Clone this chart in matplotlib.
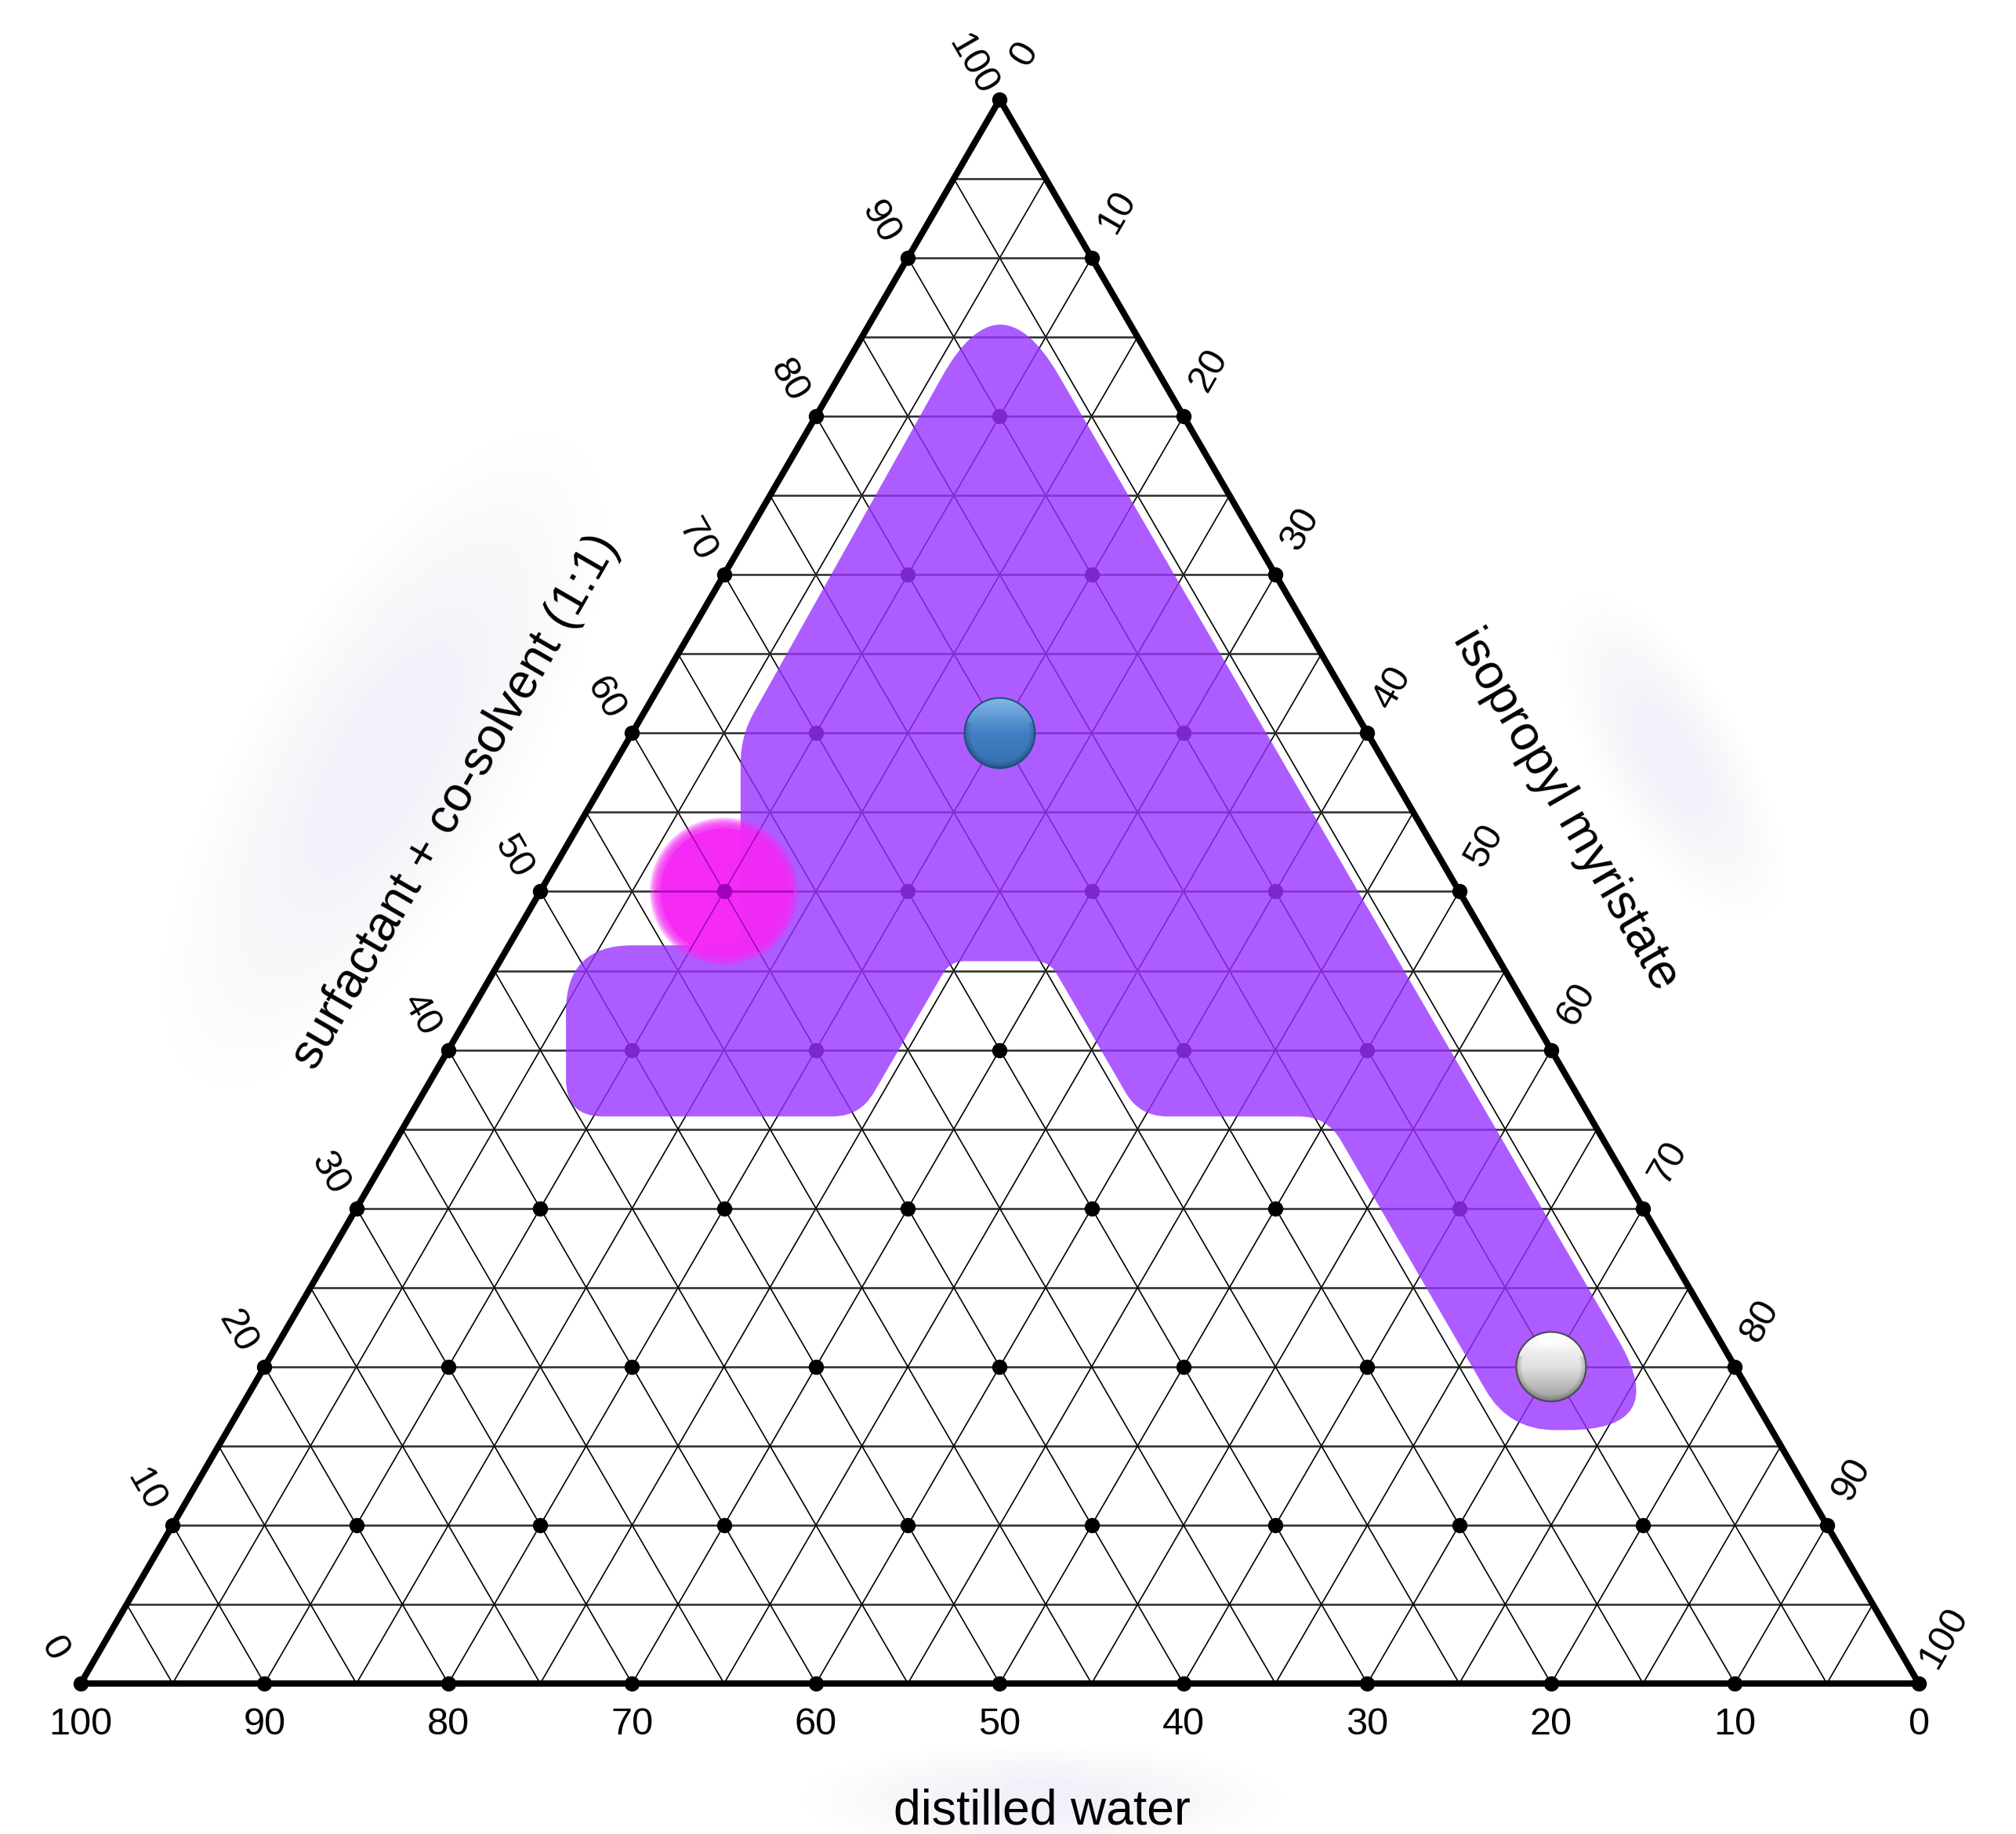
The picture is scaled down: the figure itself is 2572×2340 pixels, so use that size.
import numpy as np
import matplotlib.pyplot as plt
import matplotlib.colors as mcolors
from matplotlib.patches import Circle, Ellipse, PathPatch
from matplotlib.path import Path

plt.rcParams['font.family'] = ['Liberation Sans', 'DejaVu Sans']

H = np.sqrt(3) / 2

water_label = "distilled water"
surf_label = "surfactant + co-solvent (1:1)"
oil_label = "isopropyl myristate"

ticks = list(range(0, 101, 10))

# microemulsion region boundary (% surfactant + co-solvent, % oil)
region_surf = [89.0, 16.0, 16.0, 35.8, 35.8, 45.6, 45.6, 35.8, 35.8, 46.6, 46.6, 59.8]
region_oil = [5.5, 78.5, 69.7, 49.9, 39.7, 29.9, 24.5, 24.5, 8.5, 3.1, 12.6, 6.0]
# how much each corner of the region is rounded off
region_round = [6.4, 5.6, 2.5, 1.5, 1.5, 0.8, 0.8, 1.5, 2.0, 3.6, 1.0, 1.5]

# selected formulations (% surfactant + co-solvent, % oil)
pink_surf, pink_oil = 50, 10
blue_surf, blue_oil = 60, 20
white_surf, white_oil = 20, 70


def to_xy(surf, oil):
    surf = np.asarray(surf, float)
    oil = np.asarray(oil, float)
    return oil + surf / 2, surf * H


def rounded_path(xs, ys, radii):
    pts = np.column_stack([xs, ys])
    n = len(pts)
    verts, codes = [], []
    for i in range(n):
        p, v, q = pts[i - 1], pts[i], pts[(i + 1) % n]
        a = v + (p - v) / np.linalg.norm(p - v) * radii[i]
        b = v + (q - v) / np.linalg.norm(q - v) * radii[i]
        verts += [a, v, b]
        codes += [Path.MOVETO if i == 0 else Path.LINETO, Path.CURVE3, Path.CURVE3]
    verts.append(verts[0])
    codes.append(Path.CLOSEPOLY)
    return Path(verts, codes)


def soft_blob(ax, x, y, w, h, angle, color, alpha, z, n=14):
    a = 1 - (1 - alpha) ** (1 / n)
    for k in range(n):
        f = 1 - 0.75 * k / n
        ax.add_patch(Ellipse((x, y), w * f, h * f, angle=angle, facecolor=color,
                             edgecolor='none', alpha=a, zorder=z))


def draw_grid(ax, color, hcolor, z, clip=None, alpha=1.0):
    lines = []
    for k in range(5, 100, 5):
        y = k * H
        lines += ax.plot([k / 2, 100 - k / 2], [y, y], color=hcolor, lw=1.8,
                         alpha=alpha, zorder=z)
        lines += ax.plot([k, k + (100 - k) / 2], [0, (100 - k) * H], color=color,
                         lw=1.2, alpha=alpha, zorder=z)
        lines += ax.plot([100 - k, (100 - k) / 2], [0, (100 - k) * H], color=color,
                         lw=1.2, alpha=alpha, zorder=z)
    if clip is not None:
        for ln in lines:
            ln.set_clip_path(clip)


def sphere(ax, x, y, r, top, mid, bottom, rim, z, gloss=0.0):
    n = 256
    top, mid, bottom = (np.array(mcolors.to_rgb(c)) for c in (top, mid, bottom))
    t = np.linspace(0, 1, n)[:, None]
    rows = np.where(t < 0.5, top + (mid - top) * (t / 0.5),
                    mid + (bottom - mid) * ((t - 0.5) / 0.5))
    img = np.repeat(rows[:, None, :], n, axis=1)
    u, v = np.meshgrid(np.linspace(-1, 1, n), np.linspace(1, -1, n))
    rr = np.sqrt(u ** 2 + v ** 2)
    shade = 1 - 0.25 * np.clip((rr - 0.82) / 0.18, 0, 1) * (v < 0.3)
    img = img * shade[..., None]
    if gloss:
        hl = np.exp(-((u / 0.55) ** 2 + ((v - 0.72) / 0.18) ** 2))
        img = img + (1 - img) * gloss * hl[..., None]
    img = np.clip(img, 0, 1)
    im = ax.imshow(img, extent=(x - r, x + r, y - r, y + r), origin='upper',
                   zorder=z, interpolation='bilinear')
    circ = Circle((x, y), r, facecolor='none', edgecolor=rim, lw=1.5, zorder=z + 0.1)
    ax.add_patch(circ)
    im.set_clip_path(circ)


fig = plt.figure(figsize=(25.72, 23.40), dpi=100)
ax = fig.add_axes([0, 0, 1, 1])
ax.axis('off')

# faint haze behind the axis titles
soft_blob(ax, 16.5, 50.5, 40, 15, 60, '#ececfa', 0.22, 0)
soft_blob(ax, 86.5, 50.6, 20, 8, -60, '#ececfa', 0.22, 0)
soft_blob(ax, 52.3, -6.3, 26, 6, 0, '#ececfa', 0.18, 0)

# grid lines every 5 %
draw_grid(ax, 'black', '#2a2a2a', 1)

# lattice points every 10 %
ds, do = [], []
for s in ticks:
    for o in ticks:
        if s + o <= 100:
            ds.append(s)
            do.append(o)
dx, dy = to_xy(ds, do)
ax.plot(dx, dy, 'o', color='black', markersize=13, zorder=2)

# triangle frame
ax.plot([0, 100, 50, 0], [0, 0, 100 * H, 0], color='black', lw=5.8,
        solid_joinstyle='round', zorder=3)

# one-phase region
rx, ry = to_xy(region_surf, region_oil)
ax.add_patch(PathPatch(rounded_path(rx, ry, region_round), facecolor='#9933ff',
                       edgecolor='none', alpha=0.8, zorder=4))

# highlighted formulations: soft-edged pink disc
px, py = to_xy(pink_surf, pink_oil)
ax.add_patch(Circle((px, py), 3.45, facecolor='#f52af5', edgecolor='none',
                    alpha=0.9, zorder=5))
for k in range(10):
    ax.add_patch(Circle((px, py), 4.05 - 0.06 * k, facecolor='#f52af5',
                        edgecolor='none', alpha=0.2, zorder=5))
pink_clip = Circle((px, py), 3.8, transform=ax.transData)
draw_grid(ax, '#8a00a0', '#8a00a0', 5.2, clip=pink_clip, alpha=0.75)
ax.plot([px], [py], 'o', color='#a000b8', markersize=13, zorder=5.3)

bx, by = to_xy(blue_surf, blue_oil)
sphere(ax, bx, by, 1.92, '#86b8e6', '#4080c4', '#3670b0', '#1d4f82', 6)
wx, wy = to_xy(white_surf, white_oil)
sphere(ax, wx, wy, 1.9, '#ffffff', '#e2e2e2', '#9c9c9c', '#4a4a4a', 6, gloss=0.9)

# tick labels
tick_fs = 35
for v in ticks:
    # distilled water along the base, 100 at the left corner
    x, y = to_xy(0, v)
    ax.annotate(str(100 - v), (x, y), xytext=(0, -38), textcoords='offset points',
                ha='center', va='center', fontsize=tick_fs, zorder=7)
    # surfactant + co-solvent on the left side
    x, y = to_xy(v, 0)
    ax.annotate(str(v), (x, y), xytext=(-25, 32), textcoords='offset points',
                ha='center', va='center', fontsize=tick_fs, rotation=-60,
                rotation_mode='anchor', zorder=7)
    # oil on the right side
    x, y = to_xy(100 - v, v)
    ax.annotate(str(v), (x, y), xytext=(23, 42), textcoords='offset points',
                ha='center', va='center', fontsize=tick_fs, rotation=60,
                rotation_mode='anchor', zorder=7)

title_fs = 45
ax.text(52.3, -7.0, water_label, ha='center', va='center', fontsize=title_fs, zorder=7)
ax.text(20.4, 48.2, surf_label, ha='center', va='center', fontsize=title_fs,
        rotation=60, rotation_mode='anchor', zorder=7)
ax.text(80.8, 47.8, oil_label, ha='center', va='center', fontsize=title_fs,
        rotation=-60, rotation_mode='anchor', zorder=7)

ax.set_xlim(-4.392, 105.29)
ax.set_ylim(-8.227, 92.04)
ax.set_aspect('auto')

fig.savefig('out.png', dpi=100, facecolor='white')
